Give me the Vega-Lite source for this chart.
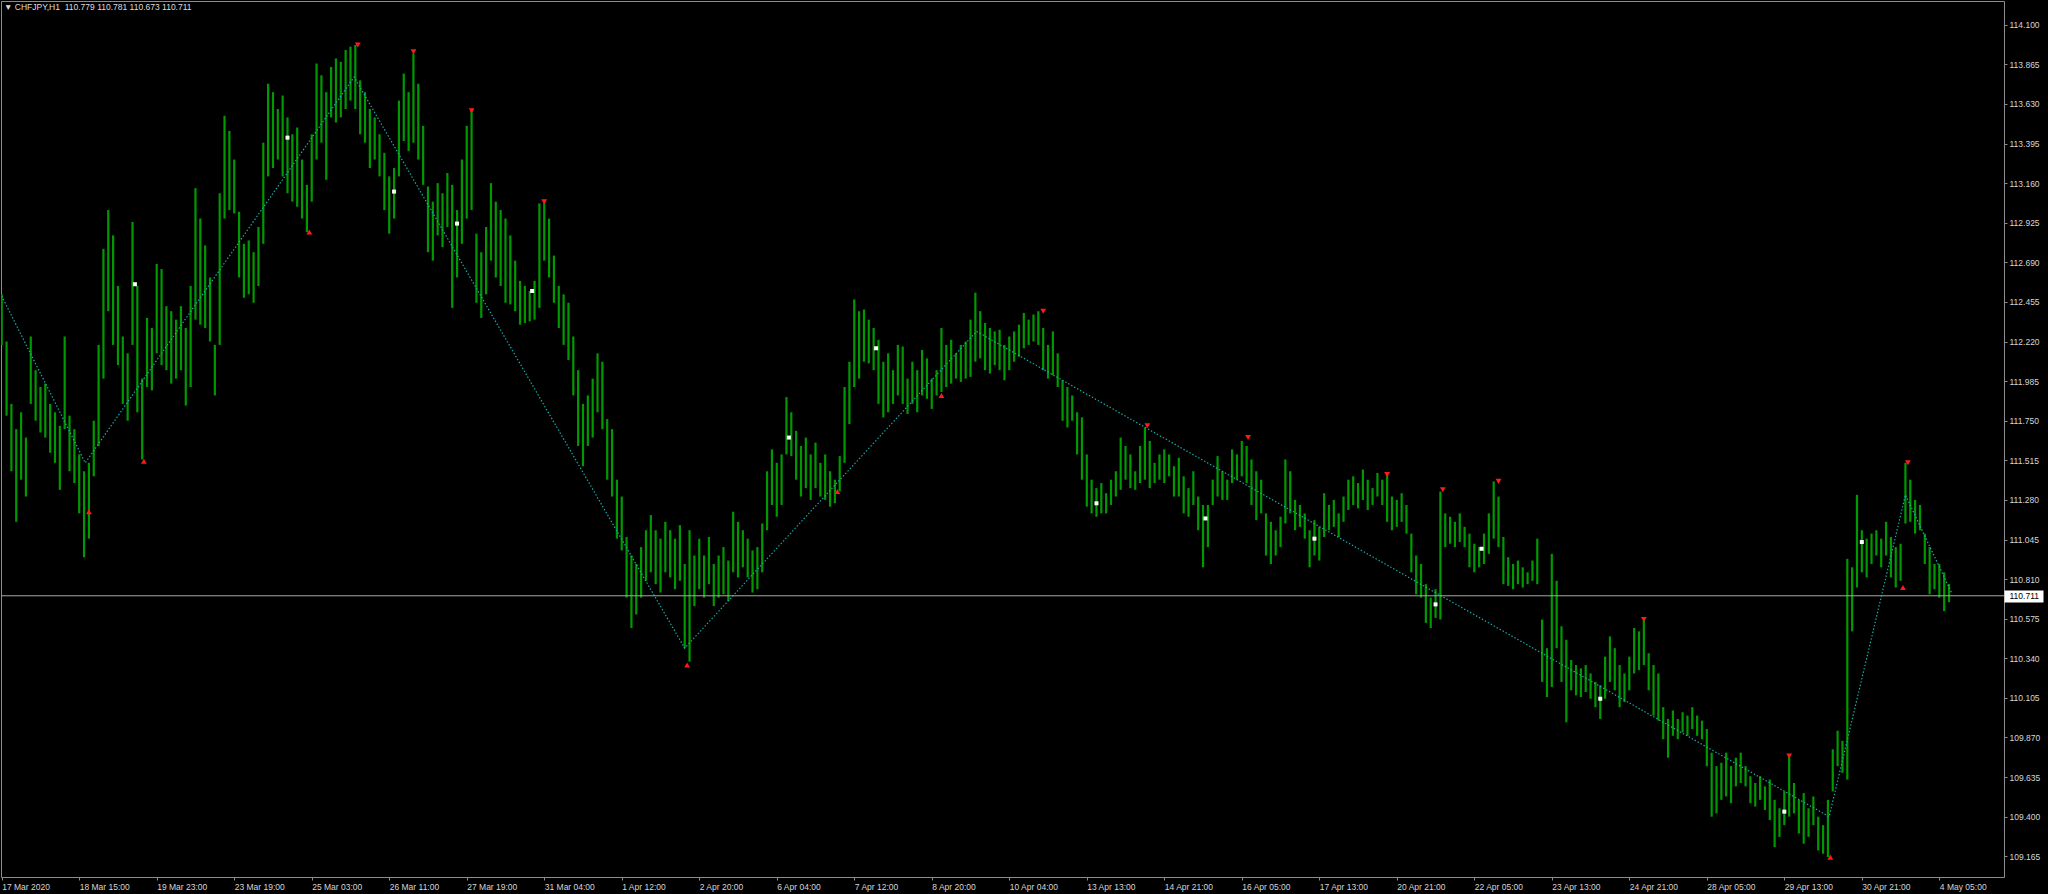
{
"$schema":"https://vega.github.io/schema/vega-lite/v6.json",
"autosize":"none",
"width":2003,
"height":876,
"padding":{"left":1,"top":1,"right":44,"bottom":17},
"background":"#000000",
"title":{"text":"▼  CHFJPY,H1\u00a0\u00a0110.779 110.781 110.673 110.711","anchor":"start","frame":"group","orient":"top","offset":0,"dx":3,"dy":10,"font":"Liberation Sans","fontSize":8.5,"fontWeight":"normal","color":"#dcdcdc"},
"config":{"view":{"stroke":"#8c8c8c","strokeWidth":1},"axis":{"labelFont":"Liberation Sans","labelFontSize":8.5,"labelColor":"#d6d6d6","tickColor":"#8c8c8c","grid":false,"domain":false,"title":null}},
"datasets":{
"bars":[
{"i":0,"h":112.50,"l":112.20},{"i":2,"h":112.22,"l":111.78},{"i":4,"h":111.85,"l":111.45},{"i":6,"h":111.70,"l":111.15},{"i":8,"h":111.80,"l":111.40},{"i":10,"h":111.65,"l":111.30},{"i":12,"h":112.25,"l":111.85},{"i":14,"h":112.05,"l":111.75},{"i":16,"h":111.95,"l":111.68},{"i":18,"h":111.97,"l":111.65},
{"i":20,"h":111.85,"l":111.56},{"i":22,"h":111.80,"l":111.50},{"i":24,"h":111.72,"l":111.34},{"i":26,"h":112.25,"l":111.70},{"i":28,"h":111.78,"l":111.45},{"i":30,"h":111.70,"l":111.38},{"i":32,"h":111.55,"l":111.20},{"i":34,"h":111.45,"l":110.94},{"i":36,"h":111.50,"l":111.05},{"i":38,"h":111.75,"l":111.42},
{"i":40,"h":112.20,"l":111.60},{"i":42,"h":112.77,"l":112.00},{"i":44,"h":113.00,"l":112.40},{"i":46,"h":112.85,"l":112.20},{"i":48,"h":112.55,"l":112.08},{"i":50,"h":112.25,"l":111.85},{"i":52,"h":112.15,"l":111.75},{"i":54,"h":112.93,"l":112.20},{"i":56,"h":112.55,"l":111.80},{"i":58,"h":112.00,"l":111.52},
{"i":60,"h":112.36,"l":111.95},{"i":62,"h":112.30,"l":111.93},{"i":64,"h":112.68,"l":112.15},{"i":66,"h":112.65,"l":112.08},{"i":68,"h":112.43,"l":112.05},{"i":70,"h":112.40,"l":111.97},{"i":72,"h":112.35,"l":112.00},{"i":74,"h":112.43,"l":112.05},{"i":76,"h":112.30,"l":111.84},{"i":78,"h":112.55,"l":111.95},
{"i":80,"h":113.13,"l":112.35},{"i":82,"h":112.95,"l":112.32},{"i":84,"h":112.79,"l":112.30},{"i":86,"h":112.60,"l":112.22},{"i":88,"h":112.20,"l":111.90},{"i":90,"h":113.10,"l":112.20},{"i":92,"h":113.56,"l":112.95},{"i":94,"h":113.47,"l":113.00},{"i":96,"h":113.30,"l":112.98},{"i":98,"h":112.99,"l":112.60},
{"i":100,"h":112.80,"l":112.48},{"i":102,"h":112.82,"l":112.50},{"i":104,"h":112.75,"l":112.45},{"i":106,"h":112.90,"l":112.55},{"i":108,"h":113.40,"l":112.80},{"i":110,"h":113.75,"l":113.20},{"i":112,"h":113.70,"l":113.25},{"i":114,"h":113.60,"l":113.30},{"i":116,"h":113.68,"l":113.20},{"i":118,"h":113.55,"l":113.10},
{"i":120,"h":113.45,"l":113.05},{"i":122,"h":113.49,"l":113.02},{"i":124,"h":113.30,"l":112.95},{"i":126,"h":113.15,"l":112.87},{"i":128,"h":113.45,"l":113.05},{"i":130,"h":113.87,"l":113.30},{"i":132,"h":113.80,"l":113.40},{"i":134,"h":113.70,"l":113.18},{"i":136,"h":113.85,"l":113.55},{"i":138,"h":113.90,"l":113.52},
{"i":140,"h":113.88,"l":113.55},{"i":142,"h":113.95,"l":113.60},{"i":144,"h":113.97,"l":113.65},{"i":146,"h":113.98,"l":113.60},{"i":148,"h":113.77,"l":113.45},{"i":150,"h":113.70,"l":113.40},{"i":152,"h":113.60,"l":113.25},{"i":154,"h":113.55,"l":113.30},{"i":156,"h":113.45,"l":113.20},{"i":158,"h":113.34,"l":113.00},
{"i":160,"h":113.20,"l":112.86},{"i":162,"h":113.25,"l":112.95},{"i":164,"h":113.65,"l":113.20},{"i":166,"h":113.81,"l":113.41},{"i":168,"h":113.70,"l":113.35},{"i":170,"h":113.93,"l":113.40},{"i":172,"h":113.75,"l":113.30},{"i":174,"h":113.50,"l":113.15},{"i":176,"h":113.14,"l":112.75},{"i":178,"h":113.05,"l":112.70},
{"i":180,"h":113.16,"l":112.85},{"i":182,"h":113.10,"l":112.78},{"i":184,"h":113.22,"l":112.90},{"i":186,"h":113.15,"l":112.42},{"i":188,"h":113.00,"l":112.60},{"i":190,"h":113.30,"l":112.80},{"i":192,"h":113.50,"l":112.95},{"i":194,"h":113.59,"l":113.00},{"i":196,"h":112.86,"l":112.45},{"i":198,"h":112.75,"l":112.36},
{"i":200,"h":112.90,"l":112.50},{"i":202,"h":113.16,"l":112.70},{"i":204,"h":113.05,"l":112.60},{"i":206,"h":113.00,"l":112.55},{"i":208,"h":112.95,"l":112.45},{"i":210,"h":112.85,"l":112.44},{"i":212,"h":112.70,"l":112.40},{"i":214,"h":112.58,"l":112.32},{"i":216,"h":112.55,"l":112.33},{"i":218,"h":112.52,"l":112.34},
{"i":220,"h":112.58,"l":112.35},{"i":222,"h":113.04,"l":112.42},{"i":224,"h":113.05,"l":112.70},{"i":226,"h":112.95,"l":112.60},{"i":228,"h":112.73,"l":112.45},{"i":230,"h":112.55,"l":112.30},{"i":232,"h":112.50,"l":112.20},{"i":234,"h":112.45,"l":112.11},{"i":236,"h":112.25,"l":111.90},{"i":238,"h":112.05,"l":111.60},
{"i":240,"h":111.85,"l":111.48},{"i":242,"h":111.90,"l":111.60},{"i":244,"h":112.00,"l":111.65},{"i":246,"h":112.15,"l":111.80},{"i":248,"h":112.10,"l":111.70},{"i":250,"h":111.76,"l":111.40},{"i":252,"h":111.70,"l":111.30},{"i":254,"h":111.40,"l":111.05},{"i":256,"h":111.30,"l":110.98},{"i":258,"h":111.06,"l":110.70},
{"i":260,"h":110.95,"l":110.52},{"i":262,"h":110.90,"l":110.60},{"i":264,"h":111.00,"l":110.70},{"i":266,"h":111.10,"l":110.80},{"i":268,"h":111.19,"l":110.85},{"i":270,"h":111.10,"l":110.78},{"i":272,"h":111.05,"l":110.73},{"i":274,"h":111.15,"l":110.85},{"i":276,"h":111.10,"l":110.82},{"i":278,"h":111.05,"l":110.75},
{"i":280,"h":111.13,"l":110.80},{"i":282,"h":110.90,"l":110.40},{"i":284,"h":111.10,"l":110.32},{"i":286,"h":110.95,"l":110.65},{"i":288,"h":111.05,"l":110.75},{"i":290,"h":110.95,"l":110.70},{"i":292,"h":111.06,"l":110.78},{"i":294,"h":110.90,"l":110.65},{"i":296,"h":110.95,"l":110.70},{"i":298,"h":111.00,"l":110.72},
{"i":300,"h":110.92,"l":110.68},{"i":302,"h":111.21,"l":110.85},{"i":304,"h":111.15,"l":110.82},{"i":306,"h":111.10,"l":110.88},{"i":308,"h":111.05,"l":110.82},{"i":310,"h":110.98,"l":110.73},{"i":312,"h":111.00,"l":110.75},{"i":314,"h":111.14,"l":110.85},{"i":316,"h":111.45,"l":111.10},{"i":318,"h":111.58,"l":111.25},
{"i":320,"h":111.50,"l":111.18},{"i":322,"h":111.55,"l":111.25},{"i":324,"h":111.89,"l":111.55},{"i":326,"h":111.80,"l":111.54},{"i":328,"h":111.69,"l":111.40},{"i":330,"h":111.60,"l":111.30},{"i":332,"h":111.65,"l":111.35},{"i":334,"h":111.55,"l":111.28},{"i":336,"h":111.62,"l":111.35},{"i":338,"h":111.50,"l":111.30},
{"i":340,"h":111.55,"l":111.28},{"i":342,"h":111.45,"l":111.24},{"i":344,"h":111.40,"l":111.26},{"i":346,"h":111.54,"l":111.33},{"i":348,"h":111.95,"l":111.50},{"i":350,"h":112.10,"l":111.73},{"i":352,"h":112.47,"l":111.95},{"i":354,"h":112.40,"l":112.00},{"i":356,"h":112.41,"l":112.10},{"i":358,"h":112.35,"l":112.09},
{"i":360,"h":112.30,"l":112.05},{"i":362,"h":112.23,"l":111.85},{"i":364,"h":112.10,"l":111.77},{"i":366,"h":112.15,"l":111.80},{"i":368,"h":112.05,"l":111.85},{"i":370,"h":112.20,"l":111.90},{"i":372,"h":112.19,"l":111.85},{"i":374,"h":112.00,"l":111.79},{"i":376,"h":112.10,"l":111.85},{"i":378,"h":112.05,"l":111.80},
{"i":380,"h":112.17,"l":111.90},{"i":382,"h":112.12,"l":111.88},{"i":384,"h":112.00,"l":111.82},{"i":386,"h":112.05,"l":111.90},{"i":388,"h":112.30,"l":111.92},{"i":390,"h":112.20,"l":111.95},{"i":392,"h":112.23,"l":111.97},{"i":394,"h":112.15,"l":112.00},{"i":396,"h":112.20,"l":111.98},{"i":398,"h":112.22,"l":112.00},
{"i":400,"h":112.35,"l":112.01},{"i":402,"h":112.51,"l":112.10},{"i":404,"h":112.40,"l":112.12},{"i":406,"h":112.33,"l":112.05},{"i":408,"h":112.30,"l":112.03},{"i":410,"h":112.28,"l":112.08},{"i":412,"h":112.29,"l":112.05},{"i":414,"h":112.20,"l":111.99},{"i":416,"h":112.25,"l":112.05},{"i":418,"h":112.28,"l":112.10},
{"i":420,"h":112.32,"l":112.13},{"i":422,"h":112.39,"l":112.18},{"i":424,"h":112.35,"l":112.20},{"i":426,"h":112.38,"l":112.22},{"i":428,"h":112.40,"l":112.20},{"i":430,"h":112.30,"l":112.05},{"i":432,"h":112.20,"l":112.00},{"i":434,"h":112.28,"l":112.02},{"i":436,"h":112.15,"l":111.95},{"i":438,"h":111.99,"l":111.75},
{"i":440,"h":111.95,"l":111.71},{"i":442,"h":111.90,"l":111.75},{"i":444,"h":111.80,"l":111.55},{"i":446,"h":111.77,"l":111.40},{"i":448,"h":111.55,"l":111.24},{"i":450,"h":111.40,"l":111.20},{"i":452,"h":111.35,"l":111.18},{"i":454,"h":111.38,"l":111.20},{"i":456,"h":111.32,"l":111.20},{"i":458,"h":111.40,"l":111.25},
{"i":460,"h":111.45,"l":111.30},{"i":462,"h":111.65,"l":111.34},{"i":464,"h":111.60,"l":111.40},{"i":466,"h":111.55,"l":111.35},{"i":468,"h":111.45,"l":111.34},{"i":470,"h":111.60,"l":111.38},{"i":472,"h":111.71,"l":111.40},{"i":474,"h":111.63,"l":111.35},{"i":476,"h":111.50,"l":111.38},{"i":478,"h":111.55,"l":111.40},
{"i":480,"h":111.58,"l":111.38},{"i":482,"h":111.55,"l":111.42},{"i":484,"h":111.48,"l":111.30},{"i":486,"h":111.53,"l":111.30},{"i":488,"h":111.42,"l":111.20},{"i":490,"h":111.35,"l":111.18},{"i":492,"h":111.45,"l":111.25},{"i":494,"h":111.30,"l":111.10},{"i":496,"h":111.25,"l":110.88},{"i":498,"h":111.25,"l":111.00},
{"i":500,"h":111.40,"l":111.25},{"i":502,"h":111.54,"l":111.30},{"i":504,"h":111.45,"l":111.28},{"i":506,"h":111.40,"l":111.28},{"i":508,"h":111.58,"l":111.38},{"i":510,"h":111.55,"l":111.40},{"i":512,"h":111.63,"l":111.42},{"i":514,"h":111.60,"l":111.38},{"i":516,"h":111.52,"l":111.25},{"i":518,"h":111.45,"l":111.16},
{"i":520,"h":111.40,"l":111.20},{"i":522,"h":111.20,"l":110.95},{"i":524,"h":111.15,"l":110.90},{"i":526,"h":111.10,"l":110.95},{"i":528,"h":111.18,"l":111.00},{"i":530,"h":111.52,"l":111.14},{"i":532,"h":111.45,"l":111.20},{"i":534,"h":111.28,"l":111.10},{"i":536,"h":111.25,"l":111.12},{"i":538,"h":111.20,"l":111.05},
{"i":540,"h":111.10,"l":110.88},{"i":542,"h":111.16,"l":110.95},{"i":544,"h":111.12,"l":110.92},{"i":546,"h":111.32,"l":111.06},{"i":548,"h":111.25,"l":111.10},{"i":550,"h":111.28,"l":111.12},{"i":552,"h":111.20,"l":111.06},{"i":554,"h":111.30,"l":111.15},{"i":556,"h":111.40,"l":111.22},{"i":558,"h":111.42,"l":111.25},
{"i":560,"h":111.38,"l":111.23},{"i":562,"h":111.46,"l":111.28},{"i":564,"h":111.40,"l":111.22},{"i":566,"h":111.35,"l":111.25},{"i":568,"h":111.44,"l":111.30},{"i":570,"h":111.40,"l":111.25},{"i":572,"h":111.43,"l":111.15},{"i":574,"h":111.30,"l":111.10},{"i":576,"h":111.28,"l":111.12},{"i":578,"h":111.32,"l":111.15},
{"i":580,"h":111.25,"l":111.08},{"i":582,"h":111.08,"l":110.85},{"i":584,"h":110.95,"l":110.72},{"i":586,"h":110.90,"l":110.70},{"i":588,"h":110.78,"l":110.55},{"i":590,"h":110.70,"l":110.52},{"i":592,"h":110.75,"l":110.58},{"i":594,"h":111.33,"l":110.57},{"i":596,"h":111.20,"l":111.00},{"i":598,"h":111.18,"l":111.02},
{"i":600,"h":111.15,"l":111.00},{"i":602,"h":111.20,"l":111.03},{"i":604,"h":111.12,"l":111.00},{"i":606,"h":111.08,"l":110.88},{"i":608,"h":111.02,"l":110.85},{"i":610,"h":111.00,"l":110.88},{"i":612,"h":111.08,"l":110.90},{"i":614,"h":111.20,"l":110.96},{"i":616,"h":111.39,"l":111.05},{"i":618,"h":111.30,"l":111.00},
{"i":620,"h":111.06,"l":110.78},{"i":622,"h":110.94,"l":110.77},{"i":624,"h":110.90,"l":110.75},{"i":626,"h":110.92,"l":110.78},{"i":628,"h":110.88,"l":110.76},{"i":630,"h":110.85,"l":110.78},{"i":632,"h":110.92,"l":110.80},{"i":634,"h":111.05,"l":110.78},{"i":636,"h":110.57,"l":110.20},{"i":638,"h":110.40,"l":110.11},
{"i":640,"h":110.96,"l":110.17},{"i":642,"h":110.80,"l":110.40},{"i":644,"h":110.53,"l":110.20},{"i":646,"h":110.45,"l":109.96},{"i":648,"h":110.33,"l":110.15},{"i":650,"h":110.30,"l":110.12},{"i":652,"h":110.28,"l":110.11},{"i":654,"h":110.30,"l":110.14},{"i":656,"h":110.25,"l":110.10},{"i":658,"h":110.20,"l":110.05},
{"i":660,"h":110.18,"l":109.98},{"i":662,"h":110.35,"l":110.10},{"i":664,"h":110.47,"l":110.20},{"i":666,"h":110.40,"l":110.15},{"i":668,"h":110.30,"l":110.05},{"i":670,"h":110.25,"l":110.08},{"i":672,"h":110.35,"l":110.15},{"i":674,"h":110.52,"l":110.25},{"i":676,"h":110.50,"l":110.27},{"i":678,"h":110.57,"l":110.30},
{"i":680,"h":110.37,"l":110.15},{"i":682,"h":110.30,"l":110.00},{"i":684,"h":110.25,"l":109.97},{"i":686,"h":110.05,"l":109.86},{"i":688,"h":109.98,"l":109.75},{"i":690,"h":110.03,"l":109.88},{"i":692,"h":109.98,"l":109.86},{"i":694,"h":110.02,"l":109.90},{"i":696,"h":110.00,"l":109.88},{"i":698,"h":110.05,"l":109.92},
{"i":700,"h":110.00,"l":109.88},{"i":702,"h":109.97,"l":109.86},{"i":704,"h":109.92,"l":109.70},{"i":706,"h":109.78,"l":109.40},{"i":708,"h":109.70,"l":109.42},{"i":710,"h":109.72,"l":109.50},{"i":712,"h":109.78,"l":109.52},{"i":714,"h":109.70,"l":109.48},{"i":716,"h":109.75,"l":109.58},{"i":718,"h":109.78,"l":109.60},
{"i":720,"h":109.70,"l":109.58},{"i":722,"h":109.64,"l":109.48},{"i":724,"h":109.60,"l":109.46},{"i":726,"h":109.64,"l":109.50},{"i":728,"h":109.58,"l":109.44},{"i":730,"h":109.62,"l":109.38},{"i":732,"h":109.50,"l":109.22},{"i":734,"h":109.45,"l":109.28},{"i":736,"h":109.55,"l":109.35},{"i":738,"h":109.76,"l":109.40},
{"i":740,"h":109.60,"l":109.42},{"i":742,"h":109.50,"l":109.30},{"i":744,"h":109.54,"l":109.24},{"i":746,"h":109.45,"l":109.28},{"i":748,"h":109.52,"l":109.35},{"i":750,"h":109.40,"l":109.20},{"i":752,"h":109.35,"l":109.18},{"i":754,"h":109.50,"l":109.16},{"i":756,"h":109.80,"l":109.55},{"i":758,"h":109.91,"l":109.70},
{"i":760,"h":109.85,"l":109.66},{"i":762,"h":110.93,"l":109.62},{"i":764,"h":110.88,"l":110.50},{"i":766,"h":111.31,"l":110.76},{"i":768,"h":111.10,"l":110.85},{"i":770,"h":111.05,"l":110.82},{"i":772,"h":111.08,"l":110.90},{"i":774,"h":111.10,"l":110.95},{"i":776,"h":111.05,"l":110.88},{"i":778,"h":111.15,"l":110.95},
{"i":780,"h":111.06,"l":110.82},{"i":782,"h":111.00,"l":110.76},{"i":784,"h":111.02,"l":110.80},{"i":786,"h":111.50,"l":111.14},{"i":788,"h":111.40,"l":111.15},{"i":790,"h":111.28,"l":111.08},{"i":792,"h":111.25,"l":111.10},{"i":794,"h":111.08,"l":110.90},{"i":796,"h":111.00,"l":110.72},{"i":798,"h":110.90,"l":110.75},
{"i":800,"h":110.90,"l":110.70},{"i":802,"h":110.85,"l":110.62},{"i":804,"h":110.781,"l":110.673}
],
"zz":[{"i":0,"p":112.49},{"i":34.5,"p":111.50},{"i":145.5,"p":113.79},{"i":282,"p":110.40},{"i":402.5,"p":112.28},{"i":754.5,"p":109.40},{"i":786,"p":111.31},{"i":805,"p":110.73}],
"frac":[{"i":36,"p":111.21,"t":"lo"},{"i":58.7,"p":111.51,"t":"lo"},{"i":127,"p":112.87,"t":"lo"},{"i":147,"p":113.98,"t":"hi"},{"i":170,"p":113.94,"t":"hi"},{"i":194,"p":113.59,"t":"hi"},{"i":224,"p":113.05,"t":"hi"},{"i":283,"p":110.30,"t":"lo"},{"i":345,"p":111.33,"t":"lo"},{"i":388,"p":111.90,"t":"lo"},{"i":430,"p":112.40,"t":"hi"},{"i":473,"p":111.72,"t":"hi"},{"i":514.6,"p":111.65,"t":"hi"},{"i":572,"p":111.43,"t":"hi"},{"i":595,"p":111.34,"t":"hi"},{"i":618,"p":111.39,"t":"hi"},{"i":678,"p":110.57,"t":"hi"},{"i":738,"p":109.76,"t":"hi"},{"i":755,"p":109.16,"t":"lo"},{"i":785,"p":110.76,"t":"lo"},{"i":787,"p":111.50,"t":"hi"}],
"mid":[{"i":55,"p":112.56},{"i":118,"p":113.43},{"i":162,"p":113.11},{"i":188,"p":112.92},{"i":219,"p":112.52},{"i":325,"p":111.65},{"i":361,"p":112.18},{"i":452,"p":111.26},{"i":497,"p":111.17},{"i":542,"p":111.05},{"i":592,"p":110.66},{"i":611,"p":110.99},{"i":660,"p":110.10},{"i":736,"p":109.43},{"i":768,"p":111.03}]
},
"resolve":{"axis":{"y":"independent"}},
"layer":[
{"data":{"name":"bars"},"mark":{"type":"rule","color":"#009a00","strokeWidth":2.2,"clip":true},
 "encoding":{
  "x":{"field":"i","type":"quantitative","scale":{"domain":[-0.29,826.7],"nice":false,"zero":false},
   "axis":{"orient":"bottom","values":[0,32,64,96,128,160,192,224,256,288,320,352,384,416,448,480,512,544,576,608,640,672,704,736,768,800],
    "labelExpr":"['17 Mar 2020','18 Mar 15:00','19 Mar 23:00','23 Mar 19:00','25 Mar 03:00','26 Mar 11:00','27 Mar 19:00','31 Mar 04:00','1 Apr 12:00','2 Apr 20:00','6 Apr 04:00','7 Apr 12:00','8 Apr 20:00','10 Apr 04:00','13 Apr 13:00','14 Apr 21:00','16 Apr 05:00','17 Apr 13:00','20 Apr 21:00','22 Apr 05:00','23 Apr 13:00','24 Apr 21:00','28 Apr 05:00','29 Apr 13:00','30 Apr 21:00','4 May 05:00'][round(datum.value/32)]",
    "labelAlign":"left","labelBaseline":"top","labelPadding":2,"tickSize":3,"labelFlush":false,"labelOverlap":false,"labelBound":false}},
  "y":{"field":"l","type":"quantitative","scale":{"domain":[109.042,114.241],"nice":false,"zero":false},
   "axis":{"orient":"right","values":[114.1,113.865,113.63,113.395,113.16,112.925,112.69,112.455,112.22,111.985,111.75,111.515,111.28,111.045,110.81,110.575,110.34,110.105,109.87,109.635,109.4,109.165],
    "format":".3f","tickSize":3,"labelPadding":2,"labelOverlap":false,"labelBound":false,"labelFlush":false}},
  "y2":{"field":"h"}}},
{"data":{"name":"zz"},"mark":{"type":"line","color":"#17b0b0","strokeWidth":1.2,"strokeDash":[1.4,2],"clip":true},
 "encoding":{"x":{"field":"i","type":"quantitative"},"y":{"field":"p","type":"quantitative","axis":null}}},
{"data":{"values":[{"p":110.711}]},"mark":{"type":"rule","color":"#a8a8a8","strokeWidth":1},
 "encoding":{"y":{"field":"p","type":"quantitative",
   "axis":{"orient":"right","values":[110.711],"format":".3f","tickSize":39,"tickWidth":12,"tickColor":"#ffffff","labelColor":"#000000","labelPadding":-34,"labelOverlap":false,"labelBound":false,"labelFlush":false}}}},
{"data":{"name":"frac"},"mark":{"type":"point","filled":true,"color":"#ff1a1a","size":34,"opacity":1,"clip":true},
 "encoding":{"x":{"field":"i","type":"quantitative"},"y":{"field":"p","type":"quantitative","axis":null},
  "shape":{"field":"t","type":"nominal","scale":{"domain":["hi","lo"],"range":["triangle-down","triangle-up"]},"legend":null}}},
{"data":{"name":"mid"},"mark":{"type":"point","filled":true,"shape":"square","color":"#ffffff","size":16,"opacity":1,"clip":true},
 "encoding":{"x":{"field":"i","type":"quantitative"},"y":{"field":"p","type":"quantitative","axis":null}}}
]
}
